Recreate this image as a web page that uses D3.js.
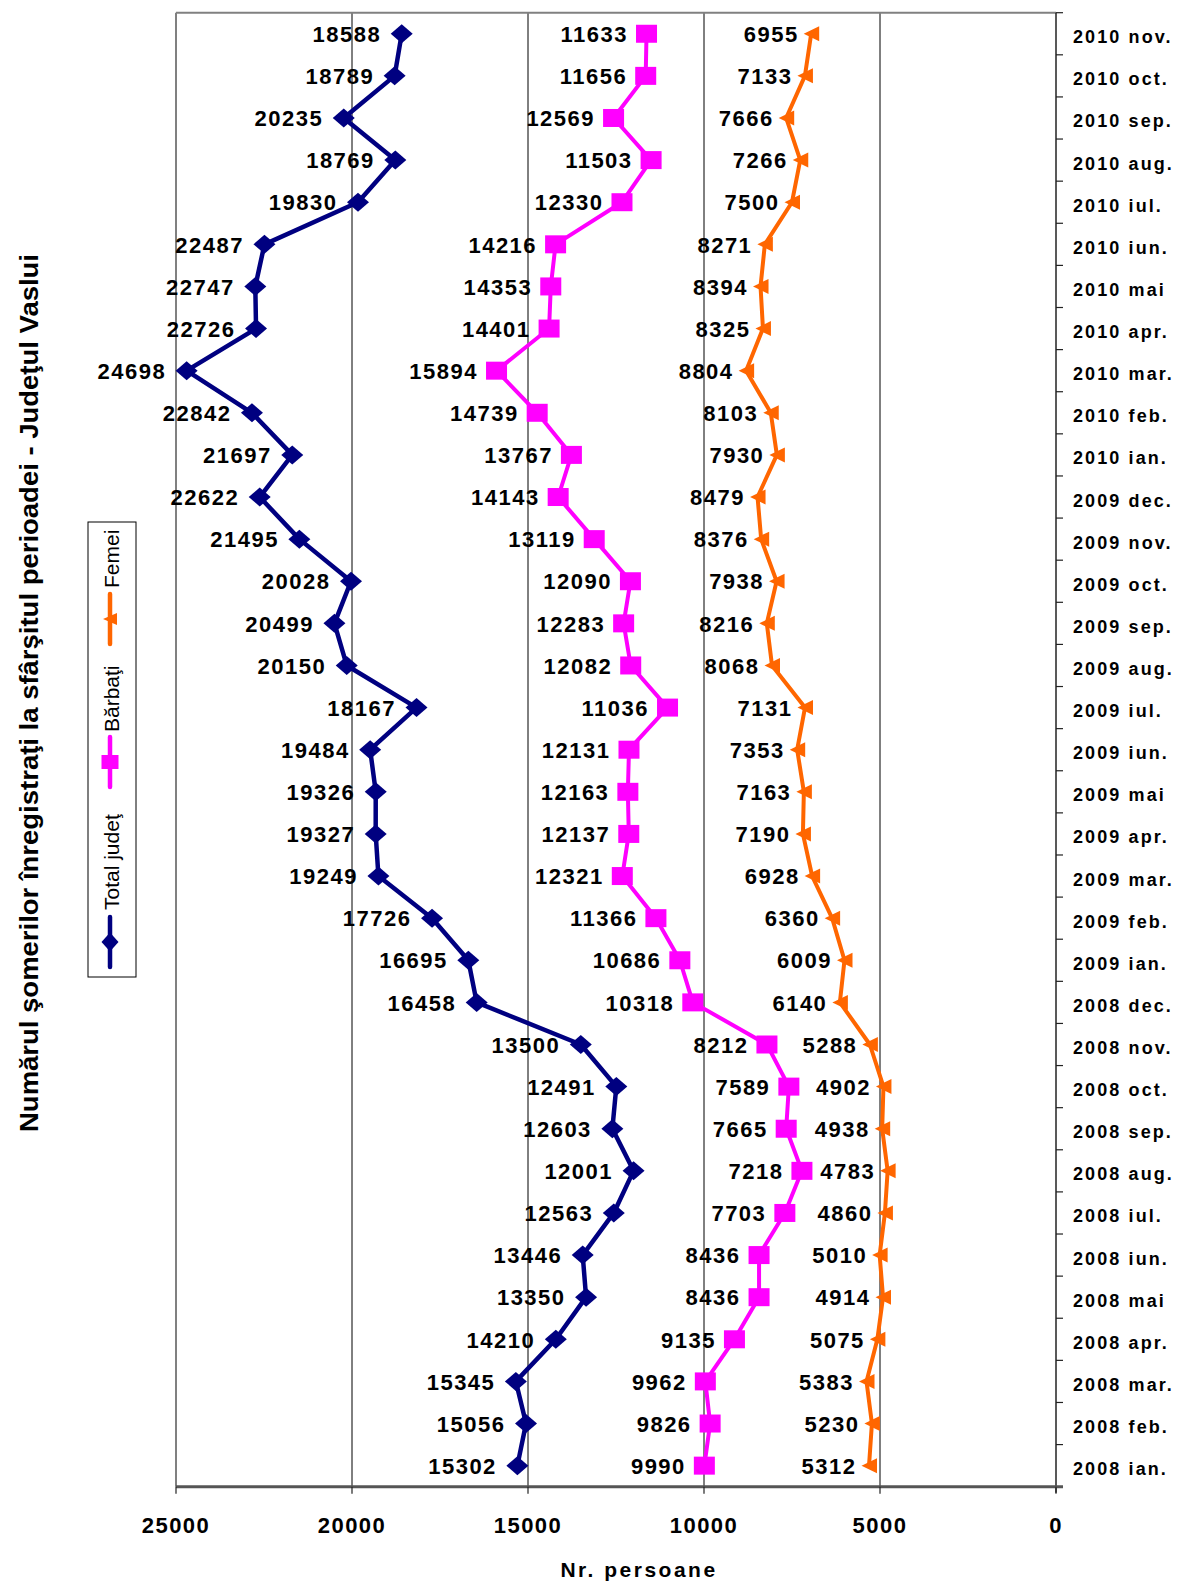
<!DOCTYPE html>
<html>
<head>
<meta charset="utf-8">
<script src="https://cdn.jsdelivr.net/npm/d3@7"></script>
<style>
  html, body { margin: 0; padding: 0; background: #fff; }
  svg { display: block; font-family: Arial, "Liberation Sans", sans-serif; }
</style>
</head>
<body>
<svg id="chart" width="1177" height="1585"></svg>
<script>
const categories = [
  "2008 ian.","2008 feb.","2008 mar.","2008 apr.","2008 mai","2008 iun.","2008 iul.","2008 aug.","2008 sep.","2008 oct.","2008 nov.","2008 dec.",
  "2009 ian.","2009 feb.","2009 mar.","2009 apr.","2009 mai","2009 iun.","2009 iul.","2009 aug.","2009 sep.","2009 oct.","2009 nov.","2009 dec.",
  "2010 ian.","2010 feb.","2010 mar.","2010 apr.","2010 mai","2010 iun.","2010 iul.","2010 aug.","2010 sep.","2010 oct.","2010 nov."
];
const totalValues = [
  15302,15056,15345,14210,13350,13446,12563,12001,12603,12491,13500,16458,
  16695,17726,19249,19327,19326,19484,18167,20150,20499,20028,21495,22622,
  21697,22842,24698,22726,22747,22487,19830,18769,20235,18789,18588
];
const barbatiValues = [
  9990,9826,9962,9135,8436,8436,7703,7218,7665,7589,8212,10318,
  10686,11366,12321,12137,12163,12131,11036,12082,12283,12090,13119,14143,
  13767,14739,15894,14401,14353,14216,12330,11503,12569,11656,11633
];
const femeiValues = [
  5312,5230,5383,5075,4914,5010,4860,4783,4938,4902,5288,6140,
  6009,6360,6928,7190,7163,7353,7131,8068,8216,7938,8376,8479,
  7930,8103,8804,8325,8394,8271,7500,7266,7666,7133,6955
];
const xTickValues = [25000, 20000, 15000, 10000, 5000, 0];
const gridValues = [20000, 15000, 10000, 5000];
const seriesNames = ["Total judeţ", "Bărbaţi", "Femei"];
const seriesColors = ["#000080", "#FF00FF", "#FF6600"];
const yTitle = "Numărul şomerilor înregistraţi la sfârşitul perioadei  - Judeţul Vaslui";
const xTitle = "Nr. persoane";

const svg = d3.select("#chart");
const pLeft = 176, pRight = 1056, pTop = 12.7, pBottom = 1486.7;

const x = d3.scaleLinear().domain([25000, 0]).range([pLeft, pRight]);
const y = d3.scaleBand().domain(categories.slice().reverse()).range([pTop, pBottom]).padding(0);
const yc = d => y(d) + y.bandwidth() / 2;

// gridlines
svg.append("g").selectAll("line").data(gridValues).join("line")
  .attr("x1", d => x(d)).attr("x2", d => x(d))
  .attr("y1", pTop).attr("y2", pBottom)
  .attr("stroke", "#000").attr("stroke-width", 1);

// plot border top & left (gray)
svg.append("line").attr("x1", pLeft).attr("x2", pRight).attr("y1", pTop).attr("y2", pTop)
  .attr("stroke", "#808080").attr("stroke-width", 2);
svg.append("line").attr("x1", pLeft).attr("x2", pLeft).attr("y1", pTop).attr("y2", pBottom)
  .attr("stroke", "#808080").attr("stroke-width", 2);

// right category axis
const catAxis = svg.append("g");
catAxis.append("line").attr("x1", pRight).attr("x2", pRight).attr("y1", pTop).attr("y2", pBottom + 6)
  .attr("stroke", "#222").attr("stroke-width", 1.5);
const boundaries = categories.map(c => y(c)).concat([y.range()[1]]);
catAxis.selectAll("line.tk").data(boundaries).join("line").attr("class", "tk")
  .attr("x1", pRight).attr("x2", pRight + 7)
  .attr("y1", d => d).attr("y2", d => d)
  .attr("stroke", "#222").attr("stroke-width", 1.2);
catAxis.selectAll("text").data(categories).join("text")
  .attr("x", 1073).attr("y", d => yc(d) + 9.5)
  .attr("font-size", 18).attr("font-weight", "bold")
  .attr("letter-spacing", "2.1px")
  .attr("fill", "#000")
  .text(d => d);

// bottom value axis
const valAxis = svg.append("g");
valAxis.append("line").attr("x1", pLeft).attr("x2", pRight + 7).attr("y1", pBottom).attr("y2", pBottom)
  .attr("stroke", "#555").attr("stroke-width", 3);
valAxis.selectAll("line.tk").data(xTickValues).join("line").attr("class", "tk")
  .attr("x1", d => x(d)).attr("x2", d => x(d))
  .attr("y1", pBottom).attr("y2", pBottom + 7)
  .attr("stroke", "#222").attr("stroke-width", 1.2);
valAxis.selectAll("text").data(xTickValues).join("text")
  .attr("x", d => x(d)).attr("y", 1533)
  .attr("text-anchor", "middle")
  .attr("font-size", 22).attr("font-weight", "bold")
  .attr("letter-spacing", "1.5px")
  .text(d => d);

// axis titles
svg.append("text").attr("x", 639).attr("y", 1577)
  .attr("text-anchor", "middle").attr("font-size", 21).attr("font-weight", "bold")
  .attr("letter-spacing", "2.5px").text(xTitle);
svg.append("text")
  .attr("transform", "translate(38,693) rotate(-90)")
  .attr("text-anchor", "middle").attr("font-size", 25).attr("font-weight", "bold")
  .attr("textLength", 878).attr("lengthAdjust", "spacingAndGlyphs")
  .text(yTitle);

// marker shapes
function drawMarker(g, kind, color) {
  if (kind === 0) {
    g.append("path").attr("d", "M-11,0 L0,-9.5 L11,0 L0,9.5 Z").attr("fill", color);
  } else if (kind === 1) {
    g.append("rect").attr("x", -10.5).attr("y", -9).attr("width", 21).attr("height", 18).attr("fill", color);
  } else {
    g.append("path").attr("d", "M-7.5,0 L8,-7.5 L8,7.5 Z").attr("fill", color);
  }
}

const allSeries = [totalValues, barbatiValues, femeiValues];
const labelGap = [22, 20, 14];
const lineWidths = [4.5, 4, 4];

allSeries.forEach((vals, si) => {
  const pts = categories.map((c, i) => ({ c, v: vals[i] }));
  const line = d3.line().x(d => x(d.v)).y(d => yc(d.c));
  const g = svg.append("g");
  g.append("path").datum(pts).attr("d", line)
    .attr("fill", "none").attr("stroke", seriesColors[si])
    .attr("stroke-width", lineWidths[si]).attr("stroke-linejoin", "round");
  pts.forEach(p => {
    const mg = g.append("g").attr("transform", `translate(${x(p.v)},${yc(p.c)})`);
    drawMarker(mg, si, seriesColors[si]);
  });
  g.selectAll("text").data(pts).join("text")
    .attr("x", d => x(d.v) - labelGap[si] + 1.5)
    .attr("y", d => yc(d.c) + 8.2)
    .attr("text-anchor", "end")
    .attr("font-size", 22).attr("font-weight", "bold")
    .attr("letter-spacing", "1.5px")
    .attr("fill", "#000")
    .text(d => d.v);
});

// legend
const lg = svg.append("g");
lg.append("rect").attr("x", 88).attr("y", 522).attr("width", 48).attr("height", 455)
  .attr("fill", "#fff").attr("stroke", "#000").attr("stroke-width", 1);
const legendItems = [
  { name: seriesNames[0], lineY: 942, textY: 910, kind: 0 },
  { name: seriesNames[1], lineY: 762, textY: 732, kind: 1 },
  { name: seriesNames[2], lineY: 619, textY: 588, kind: 2 }
];
legendItems.forEach((it, i) => {
  lg.append("line").attr("x1", 110).attr("x2", 110)
    .attr("y1", it.lineY - 25).attr("y2", it.lineY + 25)
    .attr("stroke", seriesColors[i]).attr("stroke-width", 4.5).attr("stroke-linecap", "round");
  const mg = lg.append("g").attr("transform", `translate(110,${it.lineY})`);
  if (it.kind === 0) mg.append("path").attr("d", "M-8.5,0 L0,-9.5 L8.5,0 L0,9.5 Z").attr("fill", seriesColors[i]);
  else if (it.kind === 1) mg.append("rect").attr("x", -8.5).attr("y", -7).attr("width", 17).attr("height", 14).attr("fill", seriesColors[i]);
  else mg.append("path").attr("d", "M-7,0 L7,-6 L7,6 Z").attr("fill", seriesColors[i]);
  lg.append("text").attr("transform", `translate(119,${it.textY}) rotate(-90)`)
    .attr("font-size", 21).attr("font-weight", 500).attr("fill", "#000").text(it.name);
});
</script>
</body>
</html>
